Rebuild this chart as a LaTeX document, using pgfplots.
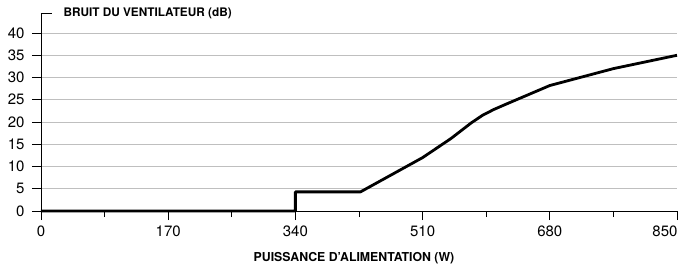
\documentclass[border=0pt]{standalone}
\usepackage{pgfplots}
\pgfplotsset{compat=1.18}
\usepackage{fontspec}
\setmainfont{TeX Gyre Heros}
\begin{document}
\begin{tikzpicture}[x=1pt,y=1pt]
\useasboundingbox (-41,-52) rectangle (642,211);
\begin{axis}[
  at={(0,0)}, anchor=origin,
  scale only axis, width=636pt, height=198pt,
  xmin=0, xmax=850, ymin=0, ymax=44.5,
  axis x line=bottom, axis y line=left,
  axis line style={-, line width=0.9pt, black},
  xtick={0,170,340,510,680},
  extra x ticks={850},
  extra x tick style={xticklabel style={anchor=north east, xshift=4pt}},
  minor xtick={85,255,425,595,765},
  ytick={0,5,...,40},
  tick align=outside,
  major tick length=9pt, minor tick length=6pt,
  tick style={black, line width=0.9pt},
  ymajorgrids, grid style={gray!50, line width=0.8pt},
  /pgf/number format/assume math mode=true,
  ticklabel style={font=\fontsize{15}{15}\selectfont},
  xticklabel style={yshift=-2pt},
  yticklabel style={xshift=-4pt},
  clip=false,
]
\addplot[black, line width=2.8pt, line join=round] coordinates {
(0,0) (340,0) (340,4.3) (427,4.3) (510,12) (548,16.3) (575,19.8) (590,21.5) (605,22.8) (620,23.9) (680,28.2) (765,32) (850,35)
};
\draw[line width=0.9pt] (axis cs:0,44.5) -- ++(11pt,0);
\node[anchor=west, font=\fontsize{11.8}{12}\selectfont\bfseries] at ([xshift=19pt]axis cs:0,44.5) {BRUIT DU VENTILATEUR (dB)};
\end{axis}
\node[anchor=base, font=\fontsize{12.3}{12}\selectfont\bfseries] at (313,-50) {PUISSANCE D’ALIMENTATION (W)};
\end{tikzpicture}
\end{document}
